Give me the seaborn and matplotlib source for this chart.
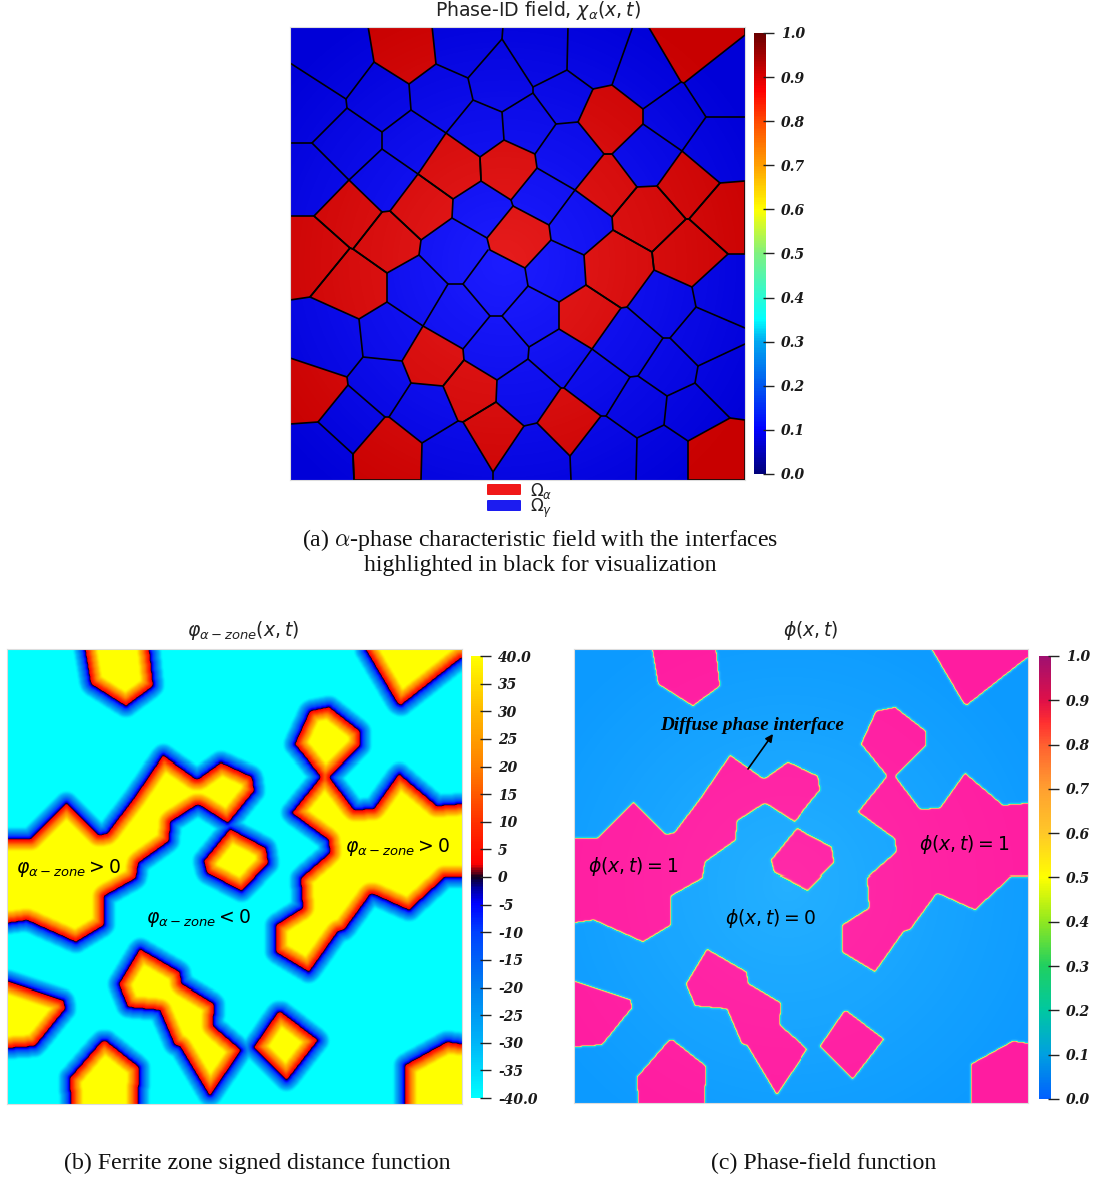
import matplotlib
matplotlib.use('Agg')
import matplotlib.pyplot as plt
import seaborn as sns
import numpy as np
from matplotlib.colors import LinearSegmentedColormap
from matplotlib.patches import FancyBboxPatch
from matplotlib.path import Path

sns.set_theme(style="white")
plt.rcParams['mathtext.fontset'] = 'dejavusans'

W, H = 1099, 1179

# grain geometry, in pixels of the top panel
alpha_grains = [
    [(368, 26), (374, 62), (409, 84), (436, 64), (432, 26)],
    [(648, 26), (681, 82), (684, 83), (745, 35), (745, 26)],
    [(593, 89), (612, 85), (643, 109), (643, 124), (612, 154), (604, 154), (578, 122)],
    [(446, 133), (480, 157), (481, 181), (453, 199), (418, 174)],
    [(480, 157), (504, 140), (535, 154), (537, 168), (511, 200), (481, 181)],
    [(604, 154), (612, 154), (637, 187), (612, 217), (575, 190)],
    [(682, 151), (720, 183), (689, 219), (686, 219), (657, 186)],
    [(720, 183), (745, 181), (745, 254), (728, 254), (689, 219)],
    [(637, 187), (657, 186), (686, 219), (652, 252), (613, 230), (612, 217)],
    [(686, 219), (689, 219), (728, 254), (692, 287), (654, 270), (652, 252)],
    [(584, 255), (613, 230), (652, 252), (654, 270), (627, 307), (621, 308), (586, 285)],
    [(586, 285), (621, 308), (592, 349), (559, 329), (559, 302)],
    [(349, 180), (382, 212), (353, 249), (350, 248), (314, 216)],
    [(382, 212), (390, 211), (421, 240), (419, 255), (387, 273), (353, 249)],
    [(418, 174), (453, 199), (452, 218), (421, 240), (390, 211)],
    [(290, 216), (314, 216), (350, 248), (310, 297), (290, 300)],
    [(350, 248), (353, 249), (387, 273), (387, 302), (359, 319), (310, 297)],
    [(423, 326), (463, 349), (464, 360), (443, 386), (411, 383), (402, 361)],
    [(464, 360), (497, 380), (496, 402), (463, 422), (458, 421), (443, 386)],
    [(290, 358), (347, 377), (348, 385), (318, 422), (290, 424)],
    [(353, 454), (385, 417), (389, 417), (422, 443), (421, 480), (354, 480)],
    [(496, 402), (524, 426), (493, 472), (463, 422)],
    [(561, 388), (564, 388), (601, 416), (570, 456), (537, 423)],
    [(688, 441), (730, 418), (745, 420), (745, 480), (688, 480)],
    [(513, 206), (549, 225), (551, 240), (525, 268), (490, 250), (487, 238)],
]

gamma_edges = [
    [(290, 63), (346, 99), (374, 62)],
    [(346, 99), (347, 108), (382, 132), (411, 110), (409, 84)],
    [(347, 108), (312, 143), (290, 143)],
    [(312, 143), (349, 180)],
    [(382, 132), (382, 149), (418, 174)],
    [(382, 149), (349, 180)],
    [(411, 110), (446, 133), (473, 100), (468, 78), (436, 64)],
    [(468, 78), (502, 39), (503, 26)],
    [(473, 100), (502, 112), (533, 93), (533, 87), (502, 39)],
    [(533, 87), (567, 70), (568, 26)],
    [(567, 70), (593, 89)],
    [(612, 85), (633, 26)],
    [(533, 93), (556, 124), (578, 122)],
    [(556, 124), (535, 154)],
    [(502, 112), (504, 140)],
    [(643, 109), (681, 82)],
    [(684, 83), (706, 117), (745, 117)],
    [(706, 117), (682, 151)],
    [(643, 124), (682, 151)],
    [(537, 168), (575, 190), (549, 225)],
    [(584, 255), (551, 240)],
    [(511, 200), (513, 206)],
    [(452, 218), (487, 238)],
    [(488, 250), (463, 284), (448, 284), (419, 255)],
    [(448, 284), (423, 326)],
    [(463, 284), (490, 316), (502, 316), (528, 286), (525, 268)],
    [(528, 286), (559, 302)],
    [(490, 316), (463, 349)],
    [(502, 316), (529, 347), (559, 329)],
    [(529, 347), (528, 359), (497, 380)],
    [(528, 359), (561, 388)],
    [(537, 423), (524, 426)],
    [(570, 456), (571, 480)],
    [(601, 416), (606, 416), (630, 377), (638, 376), (667, 396)],
    [(630, 377), (592, 349)],
    [(592, 349), (564, 388)],
    [(638, 376), (663, 338), (670, 338), (698, 366)],
    [(663, 338), (627, 307)],
    [(670, 338), (696, 307), (692, 287)],
    [(696, 307), (745, 328)],
    [(698, 366), (745, 344)],
    [(698, 366), (695, 383), (667, 396)],
    [(695, 383), (730, 418)],
    [(667, 396), (664, 425), (688, 441)],
    [(664, 425), (637, 438), (606, 416)],
    [(637, 438), (636, 480)],
    [(387, 302), (423, 326)],
    [(359, 319), (363, 357), (402, 361)],
    [(363, 357), (347, 377)],
    [(411, 383), (389, 417)],
    [(348, 385), (385, 417)],
    [(318, 422), (353, 454), (354, 480)],
    [(458, 421), (422, 443)],
    [(493, 472), (493, 480)],
]

chi_ticks = [0.0, 0.1, 0.2, 0.3, 0.4, 0.5, 0.6, 0.7, 0.8, 0.9, 1.0]
chi_labels = ['0.0', '0.1', '0.2', '0.3', '0.4', '0.5', '0.6', '0.7', '0.8', '0.9', '1.0']
dist_ticks = [-40, -35, -30, -25, -20, -15, -10, -5, 0, 5, 10, 15, 20, 25, 30, 35, 40]
dist_labels = ['-40.0', '-35', '-30', '-25', '-20', '-15', '-10', '-5', '0', '5', '10', '15',
               '20', '25', '30', '35', '40.0']

chi_bar_cmap = LinearSegmentedColormap.from_list('chi_bar', [
    (0.0, '#00007a'), (0.1, '#0000ff'), (0.2, '#0058f0'), (0.3, '#00a8f0'), (0.35, '#00ffff'),
    (0.5, '#80f080'), (0.6, '#ffff00'), (0.7, '#ffa000'), (0.8, '#ff4a00'), (0.87, '#ff0000'),
    (1.0, '#6a0000')])
dist_cmap = LinearSegmentedColormap.from_list('dist', [
    (0.0, '#00ffff'), (0.125, '#00b4f8'), (0.25, '#0080f0'), (0.375, '#0040ff'), (0.44, '#0000ff'),
    (0.475, '#0000a0'), (0.5, '#100020'), (0.53, '#ff0000'), (0.625, '#ff3000'), (0.75, '#ff8000'),
    (0.875, '#ffb800'), (1.0, '#ffff00')])
phi_bar_cmap = LinearSegmentedColormap.from_list('phi_bar', [
    (0.0, '#0060ff'), (0.1, '#00a0e0'), (0.2, '#00c8a0'), (0.3, '#20d060'), (0.4, '#90e820'),
    (0.5, '#ffff00'), (0.6, '#ffc828'), (0.7, '#ffa030'), (0.8, '#ff6030'), (0.85, '#ff3030'),
    (0.9, '#e01048'), (1.0, '#a01070')])
chi_field_cmap = LinearSegmentedColormap.from_list('chi_field', [
    (0.0, '#0000d8'), (0.2, '#1c1cff'), (0.8, '#e61c1c'), (1.0, '#c80000')])
phi_field_cmap = LinearSegmentedColormap.from_list('phi_field', [
    (0.0, '#0c9aff'), (0.12, '#24b0ff'), (0.3, '#10e0d8'), (0.5, '#f0f050'), (0.7, '#ffa070'),
    (0.88, '#ff2aa8'), (1.0, '#ff1ca0')])


def near(mask, radius):
    """Distance to the closest True cell, capped just above radius."""
    nr, nc = mask.shape
    r = int(np.ceil(radius))
    pad = np.pad(mask, r, mode='edge')
    d = np.full(mask.shape, radius + 1.0)
    for dy in range(-r, r + 1):
        for dx in range(-r, r + 1):
            dist = np.hypot(dx, dy)
            if dist > radius:
                continue
            hit = pad[r + dy:r + dy + nr, r + dx:r + dx + nc]
            d = np.where(hit & (dist < d), dist, d)
    return d


def blur(a):
    p = np.pad(a, 1, mode='edge')
    return sum(p[1 + i:1 + i + a.shape[0], 1 + j:1 + j + a.shape[1]]
               for i in (-1, 0, 1) for j in (-1, 0, 1)) / 9


def axes_px(l, t, r, b, **kw):
    return fig.add_axes([l / W, 1 - b / H, (r - l) / W, (b - t) / H], **kw)


def colorbar(box, cmap, ticks, labels, vmin, vmax):
    cax = axes_px(*box)
    ramp = np.linspace(vmax, vmin, 256)[:, None]
    sns.heatmap(ramp, cmap=cmap, vmin=vmin, vmax=vmax, cbar=False, ax=cax,
                xticklabels=False, yticklabels=False)
    pos = [(vmax - v) / (vmax - vmin) * 256 for v in ticks]
    cax.hlines(pos, 0.72, 1.68, transform=cax.get_yaxis_transform(), color='#222222',
               lw=1.0, clip_on=False)
    cax.tick_params(axis='y', left=False, right=False, labelleft=False, labelright=True,
                    length=0, pad=10.8)
    cax.set_yticks(pos)
    cax.set_yticklabels(labels, family='DejaVu Serif', style='italic', weight='bold',
                        fontsize=10, color='#1a1a1a', rotation=0)


# rasterise the grains on the panel grid
x0, y0, nx, ny = 290, 27, 455, 453
xx, yy = np.meshgrid(np.arange(nx) + 0.5 + x0, np.arange(ny) + 0.5 + y0)
pts = np.column_stack([xx.ravel(), yy.ravel()])
inside = np.zeros(nx * ny, dtype=bool)
for g in alpha_grains:
    inside |= Path(g + [g[0]]).contains_points(pts)
inside = inside.reshape(ny, nx)
closed = near(inside, 1.5) <= 1.5
closed = ~(near(~closed, 1.5) <= 1.5)

# positive inside the alpha zone
sd = near(~closed, 16) - near(closed, 16)
sd = sd - 0.5 * np.sign(sd)
phi_zone = blur(np.clip(sd * 3.3, -40, 40))
phi_c = 0.5 * (1 + np.tanh(blur(sd) / 1.1))

# soft lighting of the render, brighter around the middle of the box
r = np.hypot((xx - x0) / nx - 0.47, (yy - y0) / ny - 0.52)
light = np.clip(1 - r / 0.62, 0, 1)
chi_shade = np.where(closed, 1 - 0.2 * light, 0.2 * light)
phi_shade = 0.12 * light * (1 - phi_c) + (1 - 0.12 * light) * phi_c

fig = plt.figure(figsize=(W / 100, H / 100), dpi=100)

# (a) phase id field
ax_a = axes_px(290, 27, 745, 480)
sns.heatmap(chi_shade, cmap=chi_field_cmap, vmin=0, vmax=1, cbar=False, ax=ax_a,
            xticklabels=False, yticklabels=False)
for g in alpha_grains:
    c = np.array(g + [g[0]], dtype=float)
    ax_a.plot(c[:, 0] - x0, c[:, 1] - y0, color='black', lw=1.2, solid_joinstyle='round')
for e in gamma_edges:
    c = np.array(e, dtype=float)
    ax_a.plot(c[:, 0] - x0, c[:, 1] - y0, color='black', lw=1.2, solid_capstyle='round')
ax_a.set_xlim(0, nx)
ax_a.set_ylim(ny, 0)
colorbar((754, 33, 766, 474), chi_bar_cmap, chi_ticks, chi_labels, 0, 1)

# (b) signed distance
ax_b = axes_px(7, 649, 462, 1104)
sns.heatmap(phi_zone, cmap=dist_cmap, vmin=-40, vmax=40, cbar=False, ax=ax_b,
            xticklabels=False, yticklabels=False)
colorbar((471, 656, 483, 1098), dist_cmap, dist_ticks, dist_labels, -40, 40)

# (c) phase field
ax_c = axes_px(574, 649, 1028, 1103)
sns.heatmap(phi_shade, cmap=phi_field_cmap, vmin=0, vmax=1, cbar=False, ax=ax_c,
            xticklabels=False, yticklabels=False)
colorbar((1039, 656, 1051, 1099), phi_bar_cmap, chi_ticks, chi_labels, 0, 1)

for a in (ax_a, ax_b, ax_c):
    for s in a.spines.values():
        s.set_visible(True)
        s.set_color('#dddddd')
        s.set_linewidth(0.8)

# texts and legend, placed in picture pixels
top = fig.add_axes([0, 0, 1, 1], zorder=10)
top.set_xlim(0, W)
top.set_ylim(H, 0)
top.axis('off')
top.patch.set_alpha(0)

serif = dict(family='Liberation Serif', fontsize=17.2, color='#111111', ha='center', va='center')
sans = dict(color='#222222', ha='center', va='center')

top.text(538, 11, r'Phase-ID field, $\chi_{\alpha}(x, t)$', fontsize=13.6, **sans)
top.text(243, 631, r'$\varphi_{\alpha-zone}(x, t)$', fontsize=13.5, **sans)
top.text(811, 631, r'$\phi(x, t)$', fontsize=13.5, **sans)

top.add_patch(FancyBboxPatch((488, 485), 32, 9, boxstyle='round,pad=1', fc='#f01818', ec='none'))
top.add_patch(FancyBboxPatch((488, 501), 32, 9, boxstyle='round,pad=1', fc='#1c1cf0', ec='none'))
top.text(530, 491, r'$\Omega_{\alpha}$', fontsize=12, ha='left', va='center', color='#222222')
top.text(530, 508, r'$\Omega_{\gamma}$', fontsize=12, ha='left', va='center', color='#222222')

top.text(540, 540, r'(a) $\alpha$-phase characteristic field with the interfaces',
         math_fontfamily='cm', **serif)
top.text(540, 566, 'highlighted in black for visualization', **serif)
top.text(257, 1163, '(b) Ferrite zone signed distance function', **serif)
top.text(824, 1163, '(c) Phase-field function', **serif)

top.text(68, 868, r'$\varphi_{\alpha-zone} > 0$', fontsize=13.5, color='black', ha='center', va='center')
top.text(397, 847, r'$\varphi_{\alpha-zone} > 0$', fontsize=13.5, color='black', ha='center', va='center')
top.text(198, 918, r'$\varphi_{\alpha-zone} < 0$', fontsize=13.5, color='black', ha='center', va='center')
top.text(633, 866, r'$\phi(x, t) = 1$', fontsize=13.5, color='black', ha='center', va='center')
top.text(964, 845, r'$\phi(x, t) = 1$', fontsize=13.5, color='black', ha='center', va='center')
top.text(770, 918, r'$\phi(x, t) = 0$', fontsize=13.5, color='black', ha='center', va='center')

top.text(752, 725, 'Diffuse phase interface', family='Liberation Serif', style='italic', weight='bold',
         fontsize=13.8, color='black', ha='center', va='center')
top.annotate('', xy=(773, 734), xytext=(748, 769),
             arrowprops=dict(arrowstyle='-|>', color='black', lw=1.2, mutation_scale=11,
                             shrinkA=0, shrinkB=0))

fig.savefig('out.png', dpi=100)
plt.close(fig)
